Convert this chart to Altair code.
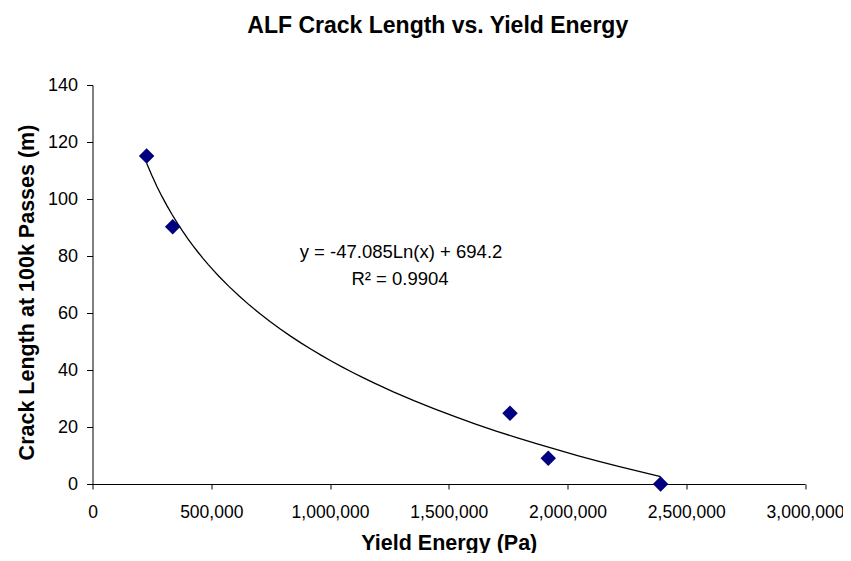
import altair as alt
import pandas as pd

# Data
yield_energy = [228000, 337700, 1758000, 1919000, 2392000]   # Pa
crack_length = [115.1, 90.3, 24.8, 9.0, 0.0]                  # m
eq_lines = ["y = -47.085Ln(x) + 694.2", "R\u00b2 = 0.9904"]
x_ticks = [0, 500000, 1000000, 1500000, 2000000, 2500000, 3000000]
y_ticks = [0, 20, 40, 60, 80, 100, 120, 140]

df = pd.DataFrame({"energy": yield_energy, "crack": crack_length})

FONT = "Liberation Sans"

x_enc = alt.X(
    "energy:Q",
    scale=alt.Scale(domain=[0, 3000000], nice=False, zero=True),
    axis=alt.Axis(
        values=x_ticks, format=",.0f", title="Yield Energy (Pa)",
        tickSize=5, labelPadding=14, labelOverlap=False, labelBound=False,
        labelFlush=False, labelFontSize=17.5,
        titleY=65, titleBaseline="alphabetic",
    ),
)
y_enc = alt.Y(
    "crack:Q",
    scale=alt.Scale(domain=[0, 140], nice=False),
    axis=alt.Axis(
        values=y_ticks, format=".0f", title="Crack Length at 100k Passes (m)",
        tickSize=6, labelPadding=9, labelOverlap=False, labelFlush=False,
        titleX=-65.5, titleY=207, titleAngle=-90,
        titleAlign="center", titleBaseline="middle",
    ),
)

base = alt.Chart(df)

trend = base.transform_regression(
    "energy", "crack", method="log"
).mark_line(color="black", strokeWidth=1.3).encode(x=x_enc, y=y_enc)

points = base.mark_point(
    shape="diamond", filled=True, size=240, color="#000080", opacity=1
).encode(x=x_enc, y=y_enc)


def eq_text(line, px, py):
    return alt.Chart(pd.DataFrame({"t": [line]})).mark_text(
        font=FONT, fontSize=18.5, fontWeight="normal",
        color="black", align="center", baseline="alphabetic",
    ).encode(text="t:N", x=alt.value(px), y=alt.value(py))


eq1 = eq_text(eq_lines[0], 308.5, 172.5)
eq2 = eq_text(eq_lines[1], 307.5, 200)

chart = alt.layer(trend, points, eq1, eq2).properties(
    width=712.5,
    height=399,
    autosize=alt.AutoSizeParams(type="none"),
    padding={"left": 84.5, "top": 77, "right": 38, "bottom": 69},
    title=alt.Title(
        "ALF Crack Length vs. Yield Energy",
        font=FONT, fontSize=23, fontWeight="bold", color="black",
        anchor="middle", frame="group", dx=-11, offset=38,
    ),
).configure_axis(
    domainColor="black", tickColor="black", labelColor="black",
    titleColor="black", grid=False,
    labelFont=FONT, titleFont=FONT,
    labelFontSize=18, titleFontSize=21.5, titleFontWeight="bold",
    domainWidth=1, tickWidth=1,
).configure_view(stroke=None)

chart.save("out.html", embed_options={"renderer": "svg", "actions": False})
